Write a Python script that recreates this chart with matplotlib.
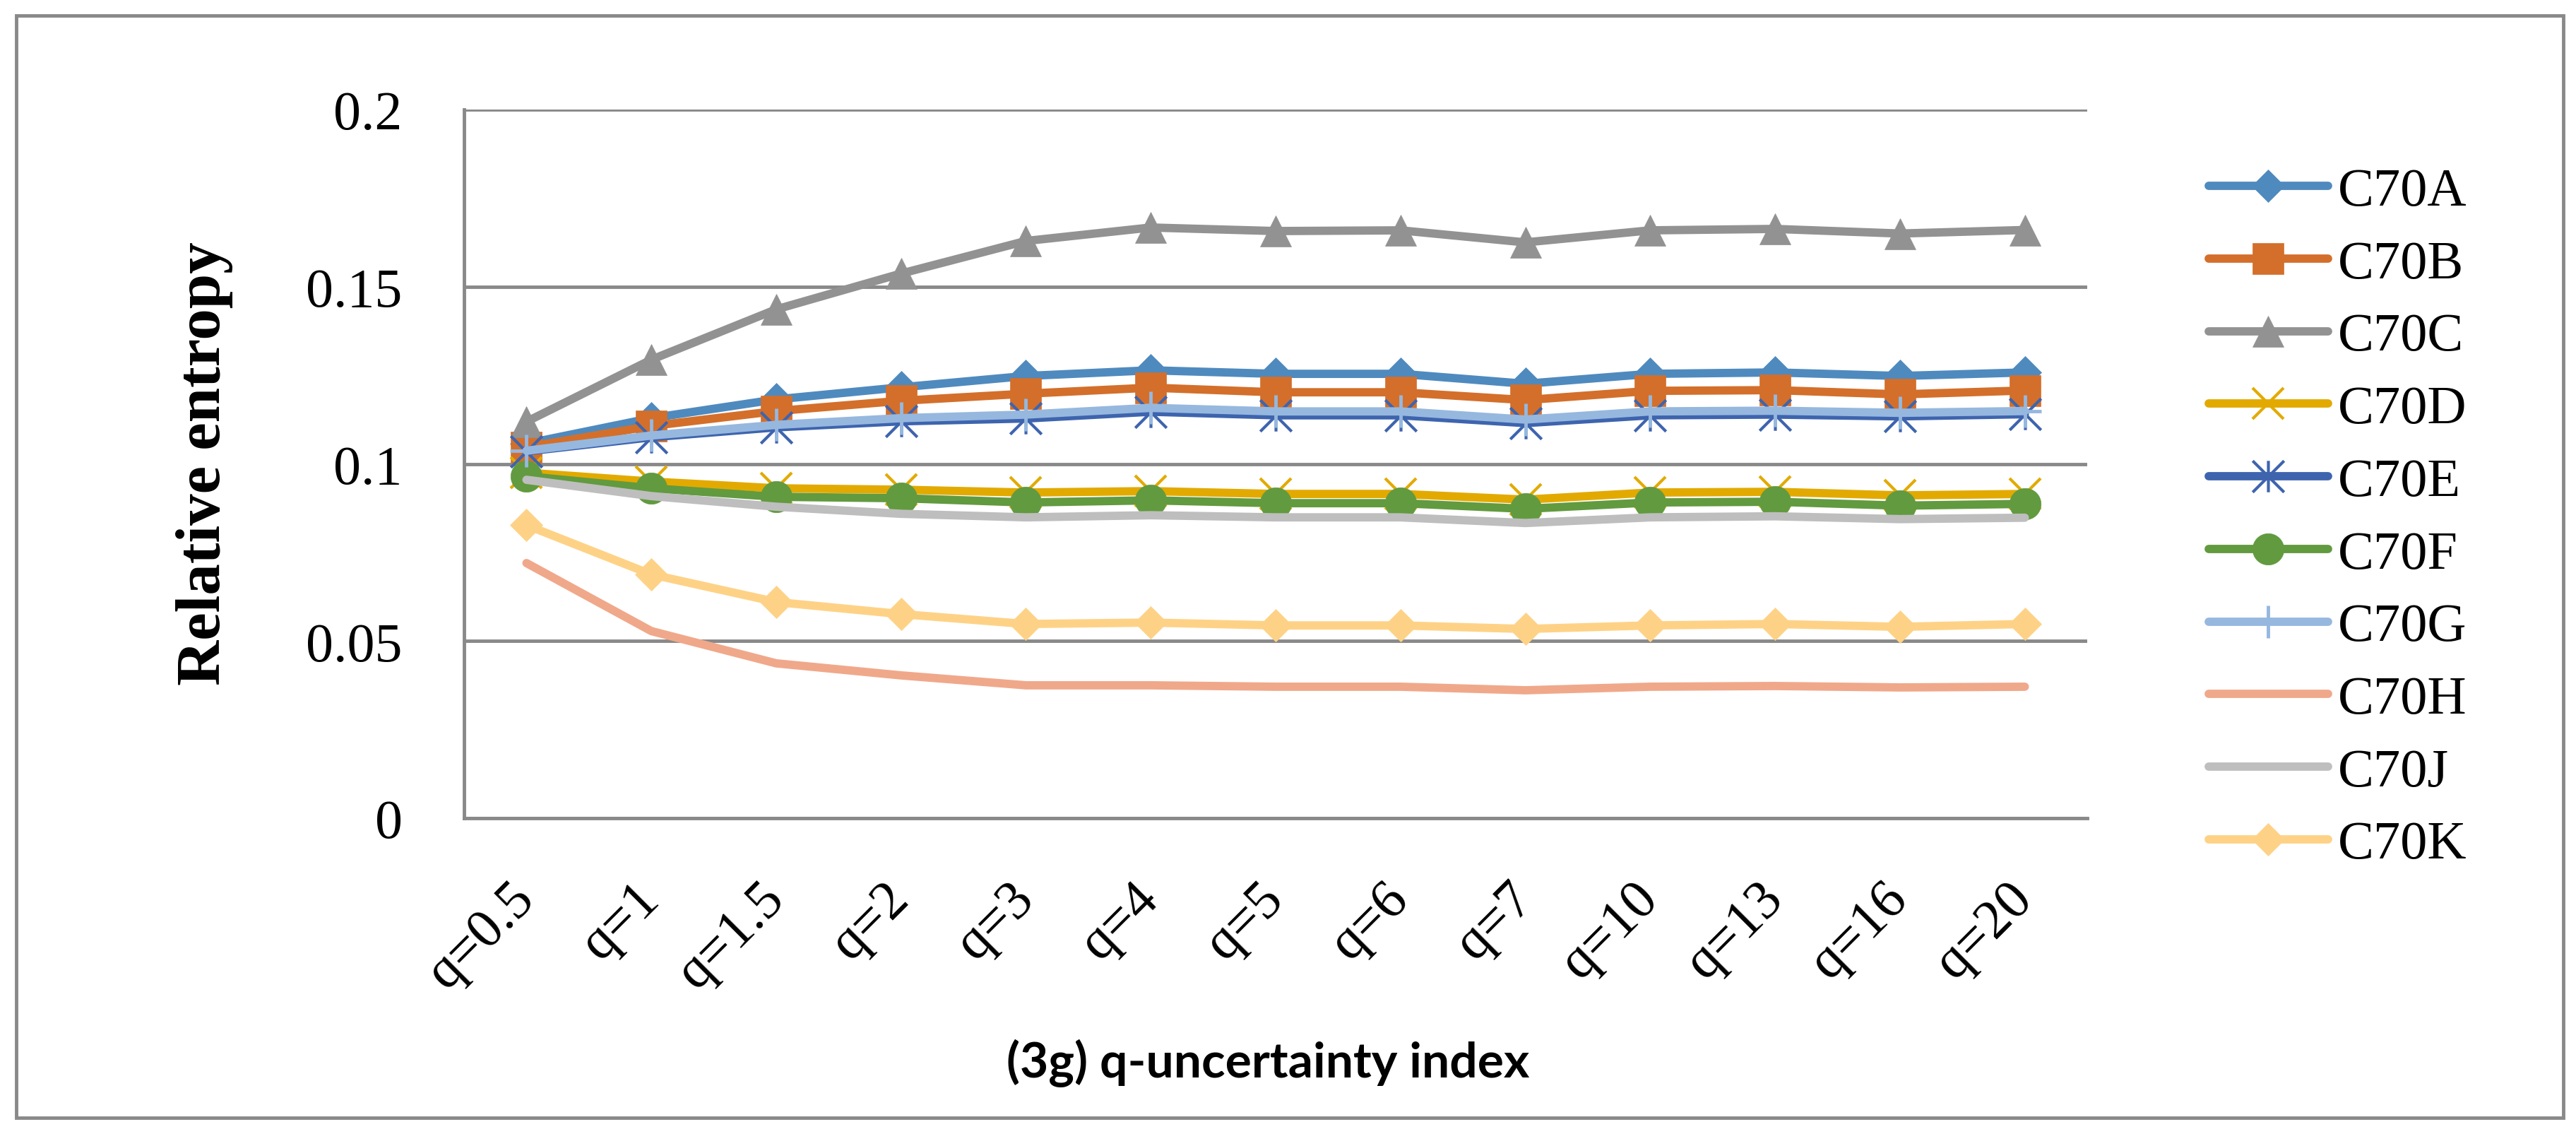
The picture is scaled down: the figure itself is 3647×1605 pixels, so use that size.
import matplotlib
matplotlib.use('Agg')
import matplotlib.pyplot as plt
from matplotlib.path import Path

categories = ['q=0.5', 'q=1', 'q=1.5', 'q=2', 'q=3', 'q=4', 'q=5', 'q=6', 'q=7', 'q=10', 'q=13', 'q=16', 'q=20']

c70a = [0.1057, 0.1129, 0.1182, 0.1216, 0.1248, 0.1264, 0.1254, 0.1254, 0.1226, 0.1254, 0.1258, 0.1248, 0.1258]
c70b = [0.1047, 0.1107, 0.1149, 0.1178, 0.1198, 0.1215, 0.1202, 0.1202, 0.1180, 0.1206, 0.1208, 0.1196, 0.1207]
c70c = [0.1119, 0.1294, 0.1436, 0.1537, 0.1629, 0.1667, 0.1657, 0.1659, 0.1625, 0.1659, 0.1663, 0.1650, 0.1660]
c70d = [0.0975, 0.0950, 0.0931, 0.0927, 0.0919, 0.0923, 0.0915, 0.0915, 0.0899, 0.0919, 0.0921, 0.0911, 0.0915]
c70e = [0.1035, 0.1075, 0.1103, 0.1120, 0.1128, 0.1147, 0.1137, 0.1137, 0.1115, 0.1137, 0.1139, 0.1134, 0.1140]
c70f = [0.0965, 0.0931, 0.0907, 0.0903, 0.0891, 0.0897, 0.0889, 0.0889, 0.0873, 0.0891, 0.0893, 0.0882, 0.0887]
c70g = [0.1037, 0.1080, 0.1110, 0.1129, 0.1139, 0.1158, 0.1148, 0.1148, 0.1125, 0.1148, 0.1150, 0.1144, 0.1149]
c70h = [0.0720, 0.0528, 0.0437, 0.0403, 0.0375, 0.0375, 0.0371, 0.0371, 0.0361, 0.0371, 0.0373, 0.0369, 0.0371]
c70j = [0.0955, 0.0909, 0.0879, 0.0859, 0.0849, 0.0855, 0.0849, 0.0849, 0.0833, 0.0849, 0.0852, 0.0844, 0.0848]
c70k = [0.0827, 0.0688, 0.0610, 0.0576, 0.0548, 0.0552, 0.0544, 0.0544, 0.0534, 0.0544, 0.0548, 0.0540, 0.0548]

series_names = ['C70A', 'C70B', 'C70C', 'C70D', 'C70E', 'C70F', 'C70G', 'C70H', 'C70J', 'C70K']
series_values = [c70a, c70b, c70c, c70d, c70e, c70f, c70g, c70h, c70j, c70k]

yticks = [0, 0.05, 0.1, 0.15, 0.2]
ytick_labels = ['0', '0.05', '0.1', '0.15', '0.2']

# excel style "star" marker: X plus a vertical bar
star = Path([(-1, -1), (1, 1), (-1, 1), (1, -1), (0, -1), (0, 1)],
            [Path.MOVETO, Path.LINETO, Path.MOVETO, Path.LINETO, Path.MOVETO, Path.LINETO])

grid_col = '#898989'
styles = [
    dict(color='#4F8ABE', marker='D', ms=23, mew=0.5),
    dict(color='#D36F2B', marker='s', ms=32, mew=0.5),
    dict(color='#929292', marker='^', ms=32, mew=0.5),
    dict(color='#E2AA00', marker='x', ms=32, mew=3),
    dict(color='#3E64AE', marker=star, ms=32, mew=3),
    dict(color='#629A3F', marker='o', ms=32, mew=0.5),
    dict(color='#96B8DF', marker='+', ms=33, mew=3.5),
    dict(color='#F0A88A', marker=None, ms=0, mew=0),
    dict(color='#BEBEBE', marker=None, ms=0, mew=0),
    dict(color='#FED286', marker='D', ms=23, mew=0.5),
]

W, H = 3648, 1606
fig = plt.figure(figsize=(W / 100, H / 100), dpi=100)
ax = fig.add_axes([657 / W, 1 - 1159 / H, (2955 - 657) / W, (1159 - 156) / H])

x = list(range(len(categories)))
for name, vals, st in zip(series_names, series_values, styles):
    ax.plot(x, vals, color=st['color'], lw=8.5, marker=st['marker'], ms=st['ms'],
            mew=st['mew'], mec=st['color'], mfc=st['color'], label=name,
            solid_capstyle='round', solid_joinstyle='round', clip_on=False)

ax.set_xlim(-0.5, len(categories) - 0.5)
ax.set_ylim(0, 0.2)
ax.set_yticks(yticks)
ax.set_yticklabels(ytick_labels, fontsize=56, family='Liberation Serif')
ax.set_xticks(x)
ax.set_xticklabels(categories, fontsize=56, family='Liberation Serif', rotation=45,
                   ha='right', va='center', rotation_mode='anchor')
ax.tick_params(axis='y', length=0, pad=63)
ax.tick_params(axis='x', length=0, pad=74)
ax.grid(axis='y', color=grid_col, lw=3.5)
ax.set_axisbelow(True)
for s in ['top', 'right']:
    ax.spines[s].set_visible(False)
for s in ['left', 'bottom']:
    ax.spines[s].set_color(grid_col)
    ax.spines[s].set_linewidth(3.5)

fig.text(290 / W, 1 - 656 / H, 'Relative entropy', rotation=90, ha='center', va='center',
         fontsize=64, fontweight='bold', family='Liberation Serif')
fig.text(1795 / W, 1 - 1505 / H, '(3g) q-uncertainty index', ha='center', va='center',
         fontsize=50, fontweight='bold', family='Lato')

fig.legend(loc='center left', bbox_to_anchor=(3127 / W, 1 - 734.5 / H), frameon=False,
           borderpad=0, borderaxespad=0, handlelength=2.21, handletextpad=0.18,
           labelspacing=0.435, prop={'family': 'Liberation Serif', 'size': 55})

fig.add_artist(plt.Rectangle((23.5 / W, 1 - 1583 / H), (3629.5 - 23.5) / W, (1583 - 22.5) / H,
                             transform=fig.transFigure, fill=False, ec=grid_col, lw=3.5))

fig.savefig('out.png', dpi=100)
